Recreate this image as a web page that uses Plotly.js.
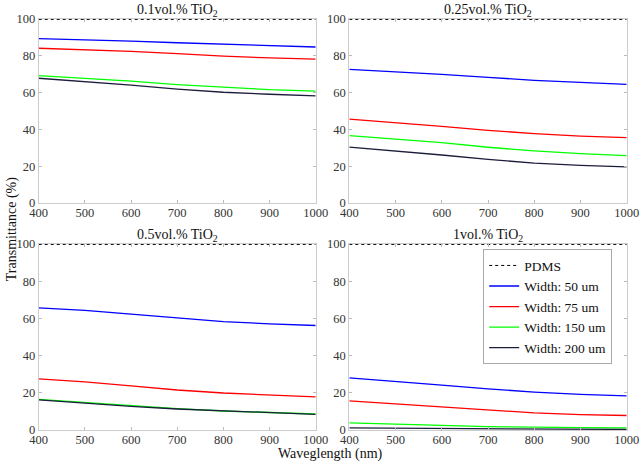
<!DOCTYPE html>
<html><head><meta charset="utf-8">
<script src="https://cdn.plot.ly/plotly-3.0.1.min.js"></script>
<style>body{margin:0;padding:0;background:#fff}#chart{width:640px;height:464px}</style>
</head><body><div id="chart"></div>
<script>
const wavelength = [400, 500, 600, 700, 800, 900, 1000];
const seriesNames = ['PDMS', 'Width: 50 um', 'Width: 75 um', 'Width: 150 um', 'Width: 200 um'];
const panelTitles = ['0.1vol.% TiO<sub>2</sub>', '0.25vol.% TiO<sub>2</sub>', '0.5vol.% TiO<sub>2</sub>', '1vol.% TiO<sub>2</sub>'];
const pdms = [99.8, 99.8, 99.8, 99.8, 99.8, 99.8, 99.8];
// 0.1 vol.%
const p1_w50  = [89.3, 88.8, 88.0, 87.1, 86.2, 85.5, 84.8];
const p1_w75  = [84.1, 83.4, 82.4, 81.2, 79.8, 78.9, 78.2];
const p1_w150 = [69.2, 67.9, 66.3, 64.4, 62.8, 61.6, 60.8];
const p1_w200 = [67.8, 66.0, 64.1, 61.9, 60.2, 59.1, 58.2];
// 0.25 vol.%
const p2_w50  = [72.6, 71.4, 69.9, 68.3, 66.7, 65.6, 64.5];
const p2_w75  = [45.6, 43.8, 41.7, 39.5, 37.7, 36.4, 35.5];
const p2_w150 = [36.6, 34.8, 32.8, 30.3, 28.3, 26.8, 25.7];
const p2_w200 = [30.4, 28.4, 26.1, 23.7, 21.7, 20.5, 19.6];
// 0.5 vol.%
const p3_w50  = [65.7, 64.3, 62.3, 60.1, 58.3, 57.1, 56.2];
const p3_w75  = [27.5, 25.9, 23.7, 21.5, 19.9, 18.7, 17.8];
const p3_w150 = [16.5, 14.7, 13.1, 11.5, 10.2, 9.3, 8.6];
const p3_w200 = [16.2, 14.4, 12.7, 11.3, 10.2, 9.2, 8.4];
// 1 vol.%
const p4_w50  = [28.0, 26.2, 24.1, 22.1, 20.4, 19.2, 18.3];
const p4_w75  = [15.7, 14.1, 12.5, 10.7, 9.2, 8.3, 7.8];
const p4_w150 = [3.8, 3.3, 2.5, 1.8, 1.4, 1.3, 1.1];
const p4_w200 = [1.1, 0.9, 0.7, 0.5, 0.5, 0.4, 0.3];

const panels = [
  [pdms, p1_w50, p1_w75, p1_w150, p1_w200],
  [pdms, p2_w50, p2_w75, p2_w150, p2_w200],
  [pdms, p3_w50, p3_w75, p3_w150, p3_w200],
  [pdms, p4_w50, p4_w75, p4_w150, p4_w200]
];
const colors = ['#000000', '#0000ff', '#ff0000', '#00ff00', '#1c1c3c'];
const dashes = ['dot', 'solid', 'solid', 'solid', 'solid'];

const traces = [];
panels.forEach((p, i) => {
  const ax = i === 0 ? '' : String(i + 1);
  p.forEach((vals, j) => {
    traces.push({
      x: wavelength, y: vals, type: 'scatter', mode: 'lines',
      name: seriesNames[j], xaxis: 'x' + ax, yaxis: 'y' + ax,
      line: {color: colors[j], width: j === 0 ? 1 : 1.3, dash: dashes[j]},
      showlegend: i === 3
    });
  });
});

const fam = 'Liberation Serif';
const font = {family: fam, color: '#222', size: 13};
const xd = [[0.0605, 0.4933], [0.5458, 0.9792]];
const yd = [[0.5625, 0.959], [0.0733, 0.474]];
function xa(d, anchor) {
  return {domain: d, anchor: anchor, range: [400, 1000], tickvals: [400,500,600,700,800,900,1000],
    ticks: 'inside', ticklen: 3, tickcolor: '#bbb', showgrid: false, zeroline: false,
    showline: true, linecolor: '#ccc', linewidth: 1, mirror: 'ticks', ticklabelstandoff: -2,
    tickfont: {family: fam, size: 12.5, color: '#333'}};
}
function ya(d, anchor) {
  return {domain: d, anchor: anchor, range: [0, 100], tickvals: [0,20,40,60,80,100],
    ticks: 'inside', ticklen: 3, tickcolor: '#bbb', showgrid: false, zeroline: false,
    showline: true, linecolor: '#ccc', linewidth: 1, mirror: 'ticks',
    tickfont: {family: fam, size: 12.5, color: '#333'}};
}
const layout = {
  width: 640, height: 464, margin: {l: 0, r: 0, t: 0, b: 0},
  paper_bgcolor: '#fff', plot_bgcolor: '#fff', font: font,
  xaxis: xa(xd[0], 'y'), yaxis: ya(yd[0], 'x'),
  xaxis2: xa(xd[1], 'y2'), yaxis2: ya(yd[0], 'x2'),
  xaxis3: xa(xd[1 - 1], 'y3'), yaxis3: ya(yd[1], 'x3'),
  xaxis4: xa(xd[1], 'y4'), yaxis4: ya(yd[1], 'x4'),
  legend: {x: 0.755, y: 0.463, xanchor: 'left', yanchor: 'top', bgcolor: '#fff',
    bordercolor: '#aaa', borderwidth: 1, itemwidth: 30, tracegroupgap: 0,
    font: {family: fam, size: 13.5, color: '#111'}},
  annotations: [
    ...panelTitles.map((t, i) => ({
      text: t, xref: 'paper', yref: 'paper', showarrow: false,
      x: (xd[i % 2][0] + xd[i % 2][1]) / 2, y: i < 2 ? 0.978 : 0.493, xanchor: 'center', yanchor: 'middle',
      font: {family: fam, size: 14, color: '#111'}
    })),
    {text: 'Transmittance (%)', xref: 'paper', yref: 'paper', showarrow: false,
     x: 0.018, y: 0.505, textangle: -90, xanchor: 'center', yanchor: 'middle',
     font: {family: fam, size: 14, color: '#111'}},
    {text: 'Waveglength (nm)', xref: 'paper', yref: 'paper', showarrow: false,
     x: 0.516, y: 0.022, xanchor: 'center', yanchor: 'middle',
     font: {family: fam, size: 14, color: '#111'}}
  ]
};
Plotly.newPlot('chart', traces, layout, {displayModeBar: false, staticPlot: true});
</script></body></html>
